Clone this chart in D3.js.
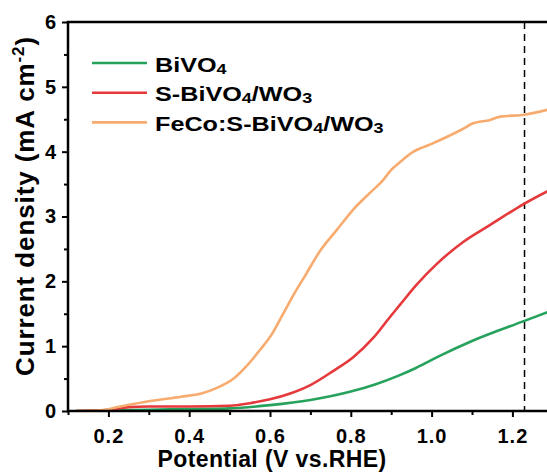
<!DOCTYPE html>
<html>
<head>
<meta charset="utf-8">
<script src="https://cdn.jsdelivr.net/npm/d3@7"></script>
<style>
  body { margin: 0; background: #fff; }
  svg text { font-family: Arial, "Liberation Sans", sans-serif; font-weight: bold; fill: #000; }
</style>
</head>
<body>
<div id="chart"></div>
<script>
var width = 547, height = 475;

// potential (V vs RHE) and current density (mA cm-2)
var bivo4V = [0.12, 0.2, 0.3, 0.4, 0.5, 0.6, 0.7, 0.8, 0.86, 0.92, 0.96, 1.02, 1.1, 1.23, 1.29];
var bivo4J = [0, 0.01, 0.02, 0.03, 0.04, 0.09, 0.17, 0.30, 0.41, 0.55, 0.66, 0.85, 1.08, 1.39, 1.53];

var sbvV = [0.12, 0.2, 0.25, 0.3, 0.4, 0.5, 0.55, 0.6, 0.65, 0.7, 0.757, 0.806, 0.856, 0.897, 0.922, 0.963, 1.013, 1.079, 1.145, 1.23, 1.29];
var sbvJ = [0, 0.02, 0.06, 0.07, 0.07, 0.08, 0.12, 0.18, 0.27, 0.40, 0.62, 0.83, 1.13, 1.45, 1.64, 1.95, 2.27, 2.61, 2.87, 3.20, 3.40];

var fecoV = [0.12, 0.18, 0.23, 0.3, 0.38, 0.43, 0.47, 0.51, 0.54, 0.575, 0.605, 0.63, 0.66, 0.69, 0.725, 0.765, 0.805, 0.85, 0.88, 0.9, 0.92, 0.955, 1.0, 1.045, 1.08, 1.1, 1.145, 1.17, 1.23, 1.29];
var fecoJ = [0, 0.01, 0.07, 0.15, 0.22, 0.27, 0.36, 0.50, 0.68, 0.94, 1.19, 1.47, 1.81, 2.12, 2.48, 2.79, 3.10, 3.38, 3.56, 3.72, 3.83, 4.00, 4.12, 4.25, 4.36, 4.43, 4.49, 4.54, 4.57, 4.65];

var xTicks = [0.2, 0.4, 0.6, 0.8, 1.0, 1.2];
var xMinor = [0.1, 0.3, 0.5, 0.7, 0.9, 1.1];
var yTicks = [0, 1, 2, 3, 4, 5, 6];
var yMinor = [0.5, 1.5, 2.5, 3.5, 4.5, 5.5];
var eBias = 1.23;

var series = [
  {name: ["BiVO", "4"], v: bivo4V, j: bivo4J, color: "#26a25c"},
  {name: ["S-BiVO", "4", "/WO", "3"], v: sbvV, j: sbvJ, color: "#e5393c"},
  {name: ["FeCo:S-BiVO", "4", "/WO", "3"], v: fecoV, j: fecoJ, color: "#f8ab6e"}
];

var margin = {left: 68, top: 22, bottom: 64};

var x = d3.scaleLinear().domain([0.1, 1.3]).range([margin.left, margin.left + 12 * 40.4]);
var y = d3.scaleLinear().domain([0, 6]).range([height - margin.bottom, margin.top]);

var svg = d3.select("#chart").append("svg")
  .attr("width", width)
  .attr("height", height);

svg.append("defs").append("clipPath").attr("id", "plot")
  .append("rect")
  .attr("x", margin.left).attr("y", margin.top)
  .attr("width", width - margin.left).attr("height", y(0) - margin.top);

// dashed line at 1.23 V
svg.append("line")
  .attr("x1", x(eBias)).attr("x2", x(eBias))
  .attr("y1", y(6)).attr("y2", y(0))
  .attr("stroke", "#000").attr("stroke-width", 1.5)
  .attr("stroke-dasharray", "7,5");

var line = d3.line()
  .x(function(d) { return x(d[0]); })
  .y(function(d) { return y(d[1]); })
  .curve(d3.curveMonotoneX);

var g = svg.append("g").attr("clip-path", "url(#plot)");
series.forEach(function(s) {
  g.append("path")
    .datum(d3.zip(s.v, s.j))
    .attr("d", line)
    .attr("fill", "none")
    .attr("stroke", s.color)
    .attr("stroke-width", 2.6)
    .attr("stroke-linejoin", "round");
});

// axes
svg.append("g")
  .attr("transform", "translate(0," + y(0) + ")")
  .call(d3.axisBottom(x).tickValues(xTicks).tickSize(6).tickPadding(12)
    .tickFormat(d3.format(".1f")));
svg.append("g")
  .attr("transform", "translate(0," + y(0) + ")")
  .call(d3.axisBottom(x).tickValues(xMinor).tickSize(4).tickFormat(""));

svg.append("g")
  .attr("transform", "translate(" + margin.left + ",0)")
  .call(d3.axisLeft(y).tickValues(yTicks).tickSize(6).tickPadding(5)
    .tickFormat(d3.format("d")));
svg.append("g")
  .attr("transform", "translate(" + margin.left + ",0)")
  .call(d3.axisLeft(y).tickValues(yMinor).tickSize(4).tickFormat(""));

svg.selectAll(".domain").remove();
svg.selectAll(".tick line").attr("stroke", "#000").attr("stroke-width", 2);
svg.selectAll(".tick text").style("font-size", "20px").style("letter-spacing", "1px");

// frame lines: bottom, left, top
svg.append("path")
  .attr("d", "M" + width + "," + y(0) + "H" + margin.left + "V" + y(6) + "H" + width)
  .attr("fill", "none")
  .attr("stroke", "#000").attr("stroke-width", 2.5)
  .attr("stroke-linejoin", "miter");

// axis titles
svg.append("text")
  .attr("x", 272).attr("y", 467)
  .attr("text-anchor", "middle")
  .style("font-size", "23px")
  .style("letter-spacing", "0.4px")
  .text("Potential (V vs.RHE)");

var yt = svg.append("text")
  .attr("transform", "translate(34,206) rotate(-90)")
  .attr("text-anchor", "middle")
  .style("font-size", "26px")
  .style("letter-spacing", "0.9px");
yt.append("tspan").text("Current density (mA cm");
yt.append("tspan").attr("dy", -10).style("font-size", "17px").text("-2");
yt.append("tspan").attr("dy", 10).text(")");

// legend
var legend = svg.append("g");
series.forEach(function(s, i) {
  var ly = 63 + i * 29.7;
  legend.append("line")
    .attr("x1", 92).attr("x2", 147)
    .attr("y1", ly).attr("y2", ly)
    .attr("stroke", s.color).attr("stroke-width", 2.6);
  var t = legend.append("text")
    .attr("transform", "translate(155," + (ly + 8.5) + ") scale(1.2,1)")
    .style("font-size", "21px");
  s.name.forEach(function(part, k) {
    if (k % 2 === 1) {
      t.append("tspan").attr("dy", 2).style("font-size", "15px").text(part);
    } else {
      t.append("tspan").attr("dy", k === 0 ? 0 : -2).text(part);
    }
  });
});
</script>
</body>
</html>
